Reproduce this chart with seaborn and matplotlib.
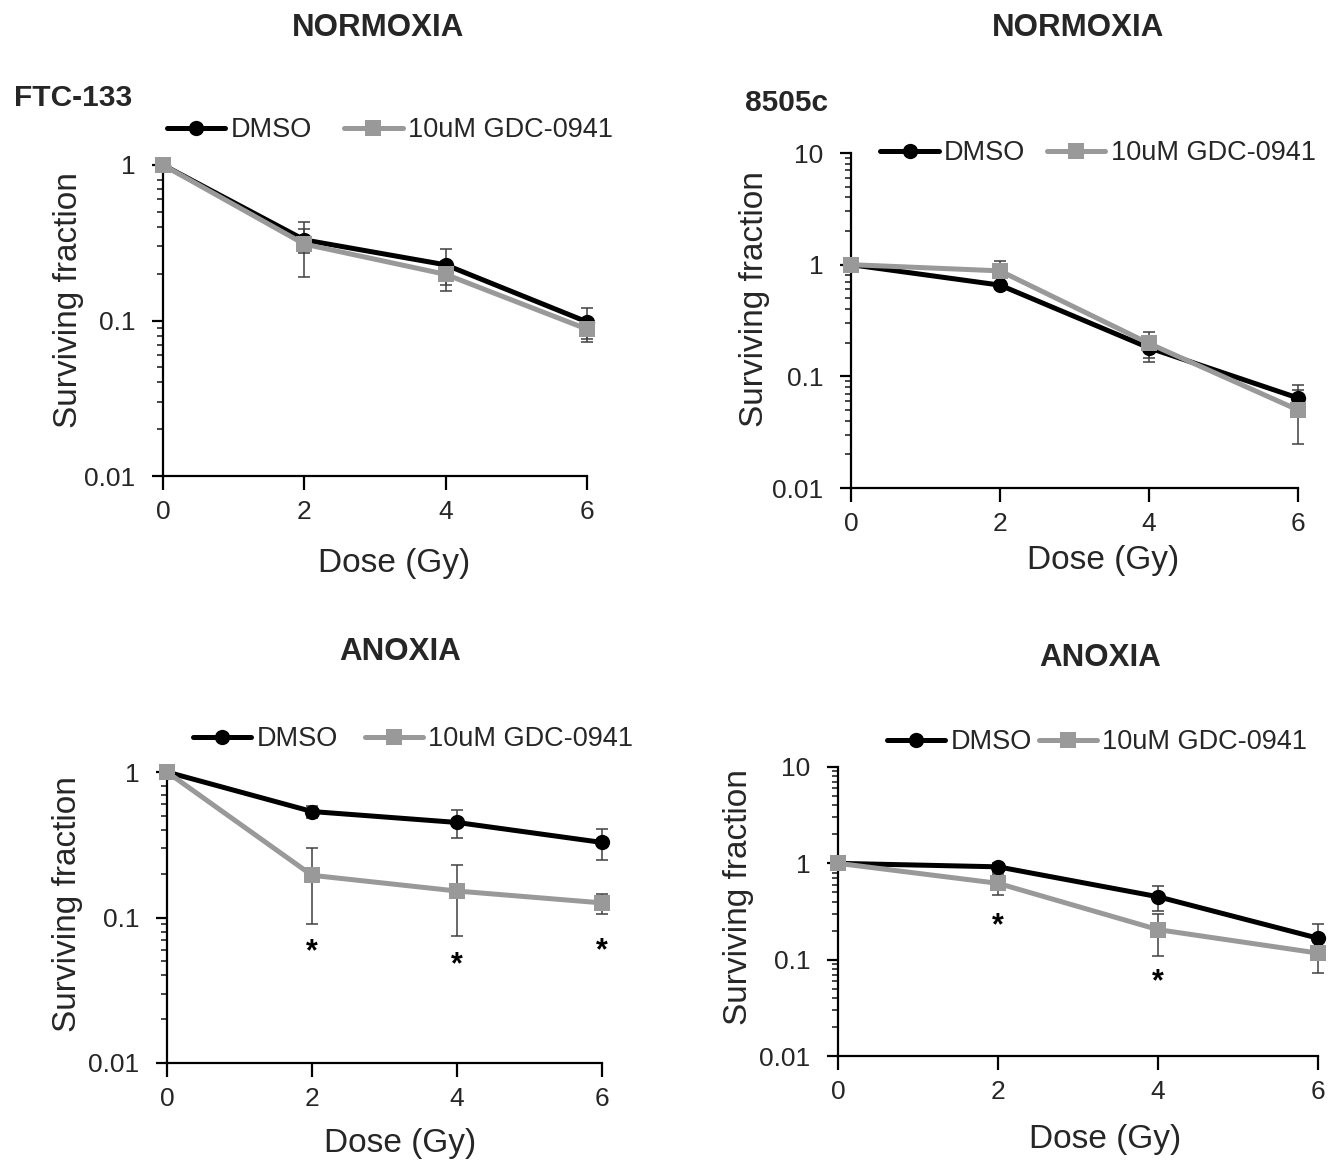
import matplotlib

matplotlib.use("Agg")
import matplotlib.pyplot as plt
import seaborn as sns
from matplotlib.ticker import FixedLocator, FuncFormatter, LogLocator, NullFormatter

DOSE = [0, 2, 4, 6]

# FTC-133, normoxia
FTC_NORM_DMSO = [1.0, 0.33, 0.228, 0.098]
FTC_NORM_DMSO_ERR = [0.0, 0.06, 0.06, 0.022]
FTC_NORM_GDC = [1.0, 0.31, 0.198, 0.088]
FTC_NORM_GDC_ERR = [0.0, 0.12, 0.043, 0.015]

# 8505c, normoxia
C8505_NORM_DMSO = [1.0, 0.656, 0.18, 0.064]
C8505_NORM_DMSO_ERR = [0.0, 0.05, 0.045, 0.02]
C8505_NORM_GDC = [1.0, 0.88, 0.197, 0.05]
C8505_NORM_GDC_ERR = [0.0, 0.2, 0.05, 0.025]

# FTC-133, anoxia
FTC_ANOX_DMSO = [1.0, 0.535, 0.45, 0.328]
FTC_ANOX_DMSO_ERR = [0.0, 0.05, 0.1, 0.08]
FTC_ANOX_GDC = [1.0, 0.195, 0.152, 0.126]
FTC_ANOX_GDC_ERR = [0.0, 0.105, 0.077, 0.02]
FTC_ANOX_STAR_DOSE = [2, 4, 6]
FTC_ANOX_STAR_Y = [0.058, 0.047, 0.059]

# 8505c, anoxia
C8505_ANOX_DMSO = [1.0, 0.92, 0.45, 0.167]
C8505_ANOX_DMSO_ERR = [0.0, 0.1, 0.13, 0.065]
C8505_ANOX_GDC = [1.0, 0.62, 0.205, 0.117]
C8505_ANOX_GDC_ERR = [0.0, 0.15, 0.095, 0.045]
C8505_ANOX_STAR_DOSE = [2, 4]
C8505_ANOX_STAR_Y = [0.222, 0.058]

LABEL_DMSO = "DMSO"
LABEL_GDC = "10uM GDC-0941"

BLACK = "#000000"
GREY = "#999999"
ERR = "#404040"

W, H = 1333, 1160


def fx(px):
    return px / W


def fy(py):
    return 1 - py / H


def box(left, top, right, bottom):
    return [fx(left), fy(bottom), (right - left) / W, (bottom - top) / H]


PANELS = [
    dict(rect=box(163, 165, 587, 476), ymax=1, dmso=FTC_NORM_DMSO, dmso_err=FTC_NORM_DMSO_ERR,
         gdc=FTC_NORM_GDC, gdc_err=FTC_NORM_GDC_ERR, stars=None,
         legend=(390, 130), colsp=1.2, ylab=(-0.224, 0.566), xlab=(0.545, -0.28)),
    dict(rect=box(851, 153, 1298, 488), ymax=10, dmso=C8505_NORM_DMSO, dmso_err=C8505_NORM_DMSO_ERR,
         gdc=C8505_NORM_GDC, gdc_err=C8505_NORM_GDC_ERR, stars=None,
         legend=(1098, 153), colsp=0.8, ylab=(-0.215, 0.564), xlab=(0.564, -0.215)),
    dict(rect=box(167, 772, 602, 1063), ymax=1, dmso=FTC_ANOX_DMSO, dmso_err=FTC_ANOX_DMSO_ERR,
         gdc=FTC_ANOX_GDC, gdc_err=FTC_ANOX_GDC_ERR, stars=(FTC_ANOX_STAR_DOSE, FTC_ANOX_STAR_Y),
         legend=(413, 739), colsp=1.0, ylab=(-0.228, 0.546), xlab=(0.536, -0.275)),
    dict(rect=box(838, 767, 1318, 1056), ymax=10, dmso=C8505_ANOX_DMSO, dmso_err=C8505_ANOX_DMSO_ERR,
         gdc=C8505_ANOX_GDC, gdc_err=C8505_ANOX_GDC_ERR, stars=(C8505_ANOX_STAR_DOSE, C8505_ANOX_STAR_Y),
         legend=(1097, 742), colsp=0.25, ylab=(-0.208, 0.55), xlab=(0.556, -0.29)),
]


def draw_panel(fig, spec):
    ax = fig.add_axes(spec["rect"])
    for vals, errs, color, marker, label, z in [
        (spec["dmso"], spec["dmso_err"], BLACK, "o", LABEL_DMSO, 3),
        (spec["gdc"], spec["gdc_err"], GREY, "s", LABEL_GDC, 4),
    ]:
        ax.errorbar(DOSE, vals, yerr=errs, fmt="none", ecolor=ERR, elinewidth=1.1,
                    capsize=4, capthick=1.1, zorder=2, clip_on=False)
        sns.lineplot(x=DOSE, y=vals, ax=ax, color=color, marker=marker, markersize=11,
                     markeredgewidth=0, linewidth=3.6, label=label, zorder=z)
        ax.lines[-1].set_clip_on(False)

    ax.set_yscale("log")
    ax.set_ylim(0.01, spec["ymax"])
    ax.set_xlim(0, 6)
    ax.xaxis.set_major_locator(FixedLocator(DOSE))
    ax.yaxis.set_major_locator(LogLocator(base=10))
    ax.yaxis.set_minor_locator(LogLocator(base=10, subs=range(2, 10)))
    ax.yaxis.set_minor_formatter(NullFormatter())
    ax.yaxis.set_major_formatter(FuncFormatter(lambda v, _: f"{v:g}"))

    sns.despine(ax=ax)
    for side in ("left", "bottom"):
        ax.spines[side].set_linewidth(1.6)
        ax.spines[side].set_color(BLACK)
    ax.tick_params(axis="both", which="major", labelsize=19, width=1.6, color=BLACK, direction="out")
    ax.tick_params(axis="x", which="major", length=10, pad=7)
    ax.tick_params(axis="y", which="major", length=8, pad=12)
    ax.tick_params(axis="y", which="minor", length=4, width=1.2, direction="out")

    ax.set_xlabel("Dose (Gy)", fontsize=24)
    ax.set_ylabel("Surviving fraction", fontsize=24)
    ax.xaxis.set_label_coords(*spec["xlab"])
    ax.yaxis.set_label_coords(*spec["ylab"])
    ax.xaxis.label.set_va("center")
    ax.yaxis.label.set_va("center")

    if spec["stars"] is not None:
        for d, y in zip(*spec["stars"]):
            ax.text(d, y, "*", ha="center", va="center", fontsize=22, fontweight="bold", color=BLACK)

    lx, ly = spec["legend"]
    ax.legend(loc="center", bbox_to_anchor=(fx(lx), fy(ly)), bbox_transform=fig.transFigure,
              ncol=2, frameon=False, fontsize=19.5, handlelength=2.15, handletextpad=0.2,
              columnspacing=spec["colsp"], borderpad=0, borderaxespad=0)
    return ax


def main():
    sns.set_style("ticks")
    plt.rcParams["font.family"] = ["Liberation Sans", "DejaVu Sans"]

    fig = plt.figure(figsize=(W / 100, H / 100), dpi=100)
    for spec in PANELS:
        draw_panel(fig, spec)

    title_kw = dict(fontsize=22.5, fontweight="bold", ha="center", va="center")
    fig.text(fx(378), fy(28), "NORMOXIA", **title_kw)
    fig.text(fx(1078), fy(28), "NORMOXIA", **title_kw)
    fig.text(fx(400), fy(652), "ANOXIA", **title_kw)
    fig.text(fx(1100), fy(658), "ANOXIA", **title_kw)
    fig.text(fx(14), fy(98), "FTC-133", fontsize=21.5, fontweight="bold", ha="left", va="center")
    fig.text(fx(745), fy(103), "8505c", fontsize=21.5, fontweight="bold", ha="left", va="center")

    fig.savefig("out.png", dpi=100)
    plt.close(fig)


if __name__ == "__main__":
    main()
